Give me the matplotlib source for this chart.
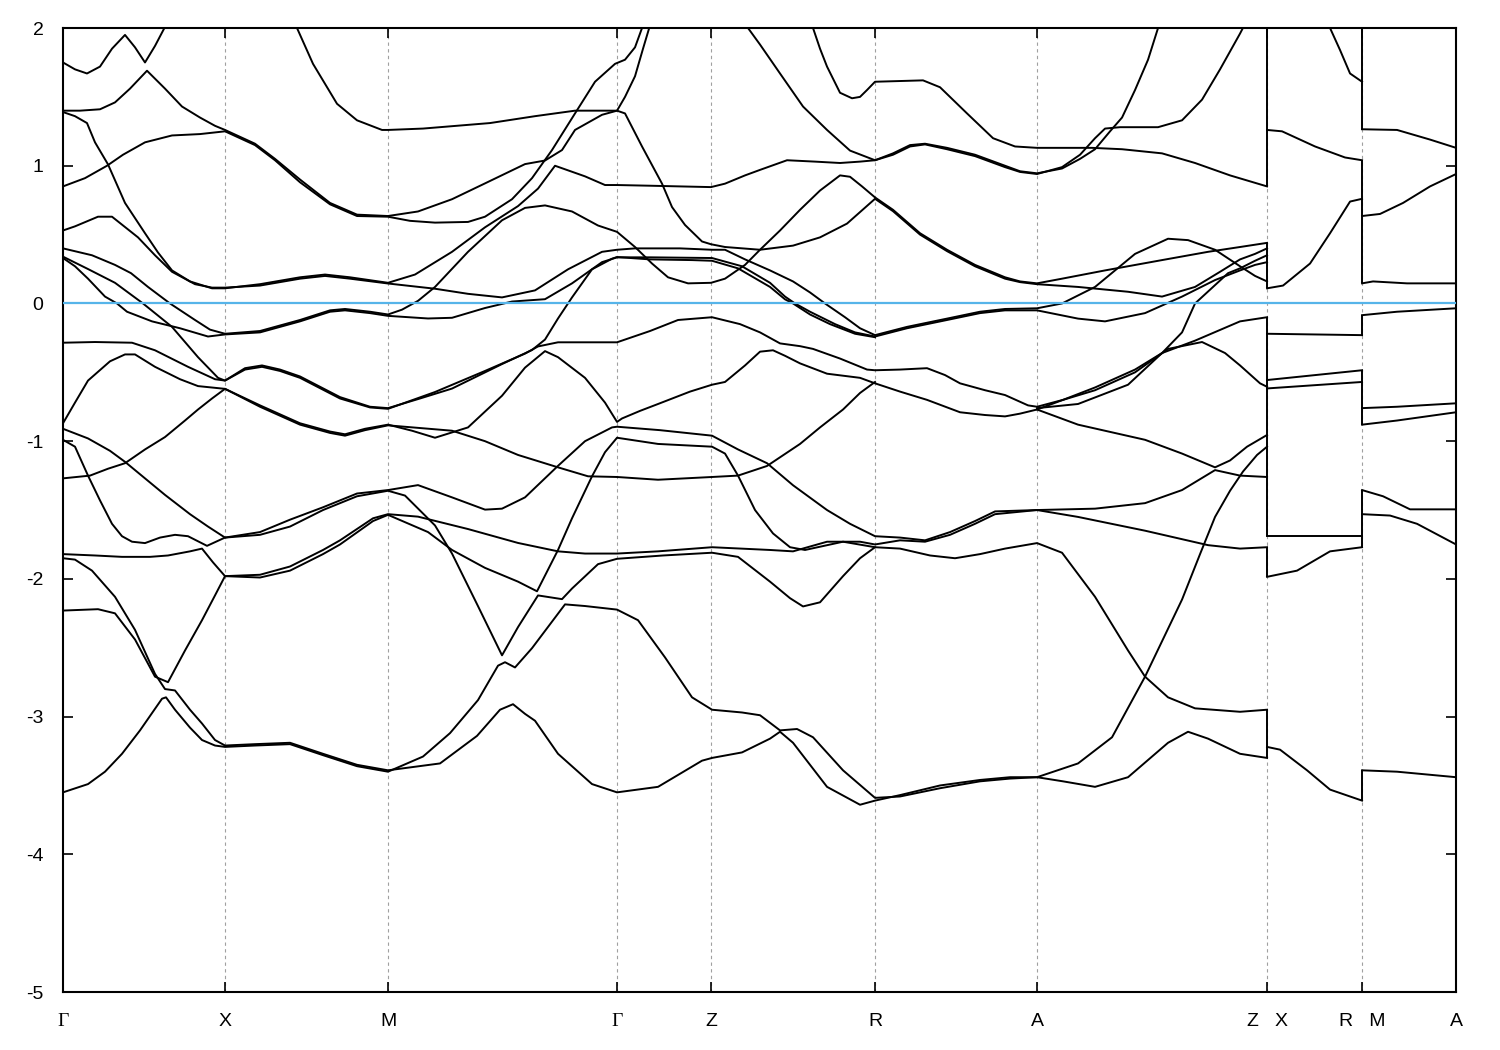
import matplotlib
matplotlib.use("Agg")
import matplotlib.pyplot as plt

plt.rcParams['font.family'] = ['Liberation Sans', 'DejaVu Sans']
plt.rcParams['axes.unicode_minus'] = False

# high-symmetry points along the path
kpts = [0.0, 1.62, 3.25, 5.54, 6.48, 8.12, 9.74, 12.04, 12.99, 13.93]
klabels = ["Γ", "X", "M", "Γ", "Z", "R", "A", "Z   X", "R   M", "A"]
yticks = [2, 1, 0, -1, -2, -3, -4, -5]

# bands as (k, E) pairs, E in eV relative to E_F
b_top = [(0.00, 1.75), (0.12, 1.70), (0.24, 1.67), (0.37, 1.72), (0.49, 1.85), (0.62, 1.95),
         (0.72, 1.86), (0.82, 1.75), (0.92, 1.87), (1.05, 2.05)]
b_b = [(0.00, 1.40), (0.17, 1.40), (0.37, 1.41), (0.52, 1.46), (0.67, 1.56), (0.84, 1.69), (1.02, 1.56),
       (1.19, 1.43), (1.37, 1.35), (1.52, 1.29), (1.62, 1.26),
       (1.92, 1.16), (2.12, 1.05), (2.37, 0.90), (2.67, 0.73), (2.94, 0.645), (3.25, 0.635),
       (3.55, 0.668), (3.89, 0.757), (4.22, 0.872), (4.62, 1.012), (4.82, 1.038), (4.99, 1.114),
       (5.12, 1.26), (5.39, 1.37), (5.54, 1.40), (5.62, 1.50), (5.72, 1.65), (5.80, 1.85), (5.87, 2.02)]
b_d = [(0.00, 0.85), (0.22, 0.91), (0.44, 1.00), (0.60, 1.08), (0.82, 1.17), (1.09, 1.22), (1.37, 1.23),
       (1.62, 1.25), (1.92, 1.15), (2.12, 1.04), (2.37, 0.88), (2.67, 0.72), (2.94, 0.635), (3.25, 0.63),
       (3.47, 0.60), (3.72, 0.587), (4.05, 0.592), (4.22, 0.63), (4.49, 0.757), (4.69, 0.91),
       (4.89, 1.114), (5.12, 1.38), (5.32, 1.61), (5.52, 1.74), (5.62, 1.77), (5.72, 1.86), (5.79, 2.0),
       (5.84, 2.08)]
b_c = [(0.00, 1.39), (0.12, 1.36), (0.24, 1.31), (0.32, 1.17), (0.45, 1.01), (0.62, 0.73), (0.82, 0.51),
       (0.95, 0.37), (1.09, 0.24), (1.27, 0.16), (1.49, 0.11), (1.62, 0.11),
       (1.97, 0.14), (2.37, 0.19), (2.62, 0.21), (2.87, 0.19), (3.25, 0.15),
       (3.52, 0.21), (3.89, 0.375), (4.22, 0.553), (4.55, 0.707), (4.75, 0.834), (4.92, 1.0),
       (5.22, 0.923), (5.42, 0.86), (5.54, 0.86),
       (5.87, 0.855), (6.17, 0.85), (6.48, 0.845),
       (6.62, 0.87), (6.82, 0.93), (6.97, 0.97), (7.24, 1.04), (7.52, 1.03), (7.77, 1.02), (7.97, 1.03),
       (8.12, 1.04), (8.30, 1.09), (8.47, 1.15), (8.62, 1.16), (8.84, 1.13), (9.12, 1.08), (9.42, 1.0),
       (9.57, 0.96), (9.74, 0.945), (9.99, 0.98), (10.17, 1.05), (10.32, 1.12), (10.47, 1.25), (10.59, 1.35),
       (10.72, 1.55), (10.85, 1.77), (10.95, 2.0), (10.99, 2.08)]
b_e = [(0.00, 0.53), (0.12, 0.56), (0.35, 0.63), (0.49, 0.63), (0.75, 0.48), (0.92, 0.35), (1.09, 0.23),
       (1.32, 0.14), (1.49, 0.115), (1.62, 0.115),
       (1.97, 0.13), (2.37, 0.18), (2.62, 0.20), (2.87, 0.18), (3.25, 0.145),
       (3.72, 0.107), (4.05, 0.07), (4.39, 0.044), (4.72, 0.095), (5.05, 0.248), (5.39, 0.375),
       (5.54, 0.39), (5.72, 0.40), (6.17, 0.40), (6.49, 0.39), (6.62, 0.39), (6.82, 0.32), (7.07, 0.24),
       (7.30, 0.16), (7.47, 0.08), (7.62, 0.0), (7.82, -0.10), (7.97, -0.18), (8.12, -0.23),
       (8.44, -0.17), (8.84, -0.11), (9.17, -0.06), (9.42, -0.04), (9.74, -0.035),
       (9.99, 0.0), (10.32, 0.12), (10.72, 0.36), (11.05, 0.47), (11.25, 0.46), (11.52, 0.39),
       (11.77, 0.27), (11.92, 0.20), (12.04, 0.16)]
b_f = [(0.00, 0.40), (0.29, 0.35), (0.52, 0.28), (0.68, 0.22), (0.85, 0.12), (1.07, 0.0), (1.32, -0.12),
       (1.47, -0.19), (1.62, -0.22),
       (1.97, -0.20), (2.37, -0.12), (2.67, -0.05), (2.82, -0.04), (3.07, -0.06), (3.25, -0.08),
       (3.39, -0.045), (3.55, 0.019), (3.72, 0.12), (4.05, 0.375), (4.39, 0.604), (4.62, 0.694),
       (4.82, 0.712), (5.09, 0.668), (5.35, 0.566), (5.54, 0.52),
       (5.72, 0.41), (5.89, 0.29), (6.05, 0.19), (6.25, 0.146), (6.48, 0.15), (6.62, 0.18), (6.82, 0.28),
       (6.97, 0.39), (7.17, 0.53), (7.37, 0.68), (7.57, 0.82), (7.77, 0.93), (7.87, 0.92), (7.99, 0.85),
       (8.12, 0.77), (8.30, 0.68), (8.57, 0.51), (8.84, 0.39), (9.12, 0.28), (9.42, 0.19), (9.57, 0.16),
       (9.74, 0.146), (9.99, 0.18), (10.42, 0.24), (10.99, 0.315), (11.45, 0.375), (11.77, 0.41), (12.04, 0.44)]
b_g = [(0.00, 0.33), (0.12, 0.27), (0.25, 0.18), (0.42, 0.05), (0.54, 0.0), (0.64, -0.06), (0.89, -0.13),
       (1.17, -0.18), (1.45, -0.24), (1.62, -0.225),
       (1.97, -0.21), (2.37, -0.13), (2.67, -0.06), (2.82, -0.05), (3.07, -0.07), (3.25, -0.09),
       (3.65, -0.109), (3.89, -0.104), (4.22, -0.033), (4.49, 0.014), (4.82, 0.031), (5.09, 0.146),
       (5.39, 0.30), (5.54, 0.335), (5.87, 0.335), (6.49, 0.33), (6.79, 0.27), (7.07, 0.15),
       (7.22, 0.05), (7.32, 0.0), (7.47, -0.06), (7.72, -0.15), (7.92, -0.21), (8.12, -0.24),
       (8.44, -0.18), (8.84, -0.12), (9.17, -0.07), (9.42, -0.05), (9.74, -0.05),
       (10.15, -0.11), (10.42, -0.13), (10.82, -0.07), (11.19, 0.05), (11.52, 0.17), (11.77, 0.24),
       (11.92, 0.28), (12.04, 0.30)]
b_h = [(0.00, 0.34), (0.25, 0.25), (0.52, 0.15), (0.80, 0.0), (1.09, -0.17), (1.35, -0.39), (1.55, -0.54),
       (1.62, -0.56), (1.82, -0.47), (1.99, -0.45), (2.17, -0.48), (2.37, -0.53), (2.77, -0.68),
       (3.07, -0.75), (3.25, -0.76), (3.57, -0.69), (3.89, -0.618), (4.39, -0.44), (4.69, -0.338),
       (4.82, -0.262), (4.95, -0.109), (5.09, 0.044), (5.29, 0.248), (5.49, 0.325), (5.54, 0.337),
       (5.87, 0.32), (6.29, 0.315), (6.49, 0.31), (6.75, 0.255), (7.07, 0.12),
       (7.22, 0.03), (7.30, 0.0), (7.47, -0.08), (7.67, -0.15), (7.92, -0.22), (8.12, -0.245)]
b_i = [(0.00, -0.285), (0.32, -0.28), (0.69, -0.285), (0.92, -0.34), (1.25, -0.46), (1.52, -0.55),
       (1.62, -0.56), (1.82, -0.48), (1.99, -0.46), (2.17, -0.49), (2.37, -0.54), (2.77, -0.69),
       (3.07, -0.755), (3.25, -0.765), (3.72, -0.643), (4.22, -0.49), (4.62, -0.364), (4.75, -0.312),
       (4.95, -0.282), (5.54, -0.282),
       (5.87, -0.20), (6.15, -0.12), (6.49, -0.10), (6.77, -0.15), (6.97, -0.21), (7.17, -0.29),
       (7.37, -0.31), (7.50, -0.33), (7.77, -0.40), (8.04, -0.48), (8.12, -0.485),
       (8.37, -0.48), (8.64, -0.47), (8.82, -0.52), (8.97, -0.58), (9.22, -0.63), (9.42, -0.665),
       (9.65, -0.74), (9.74, -0.75), (10.00, -0.70), (10.32, -0.63), (10.72, -0.50), (11.05, -0.33),
       (11.39, -0.28), (11.62, -0.36), (11.77, -0.45), (11.97, -0.58), (12.04, -0.605)]
b_j = [(0.00, -0.87), (0.12, -0.72), (0.25, -0.56), (0.47, -0.42), (0.62, -0.37), (0.72, -0.37),
       (0.92, -0.46), (1.17, -0.55), (1.35, -0.60), (1.62, -0.62),
       (1.97, -0.74), (2.37, -0.87), (2.67, -0.93), (2.82, -0.95), (3.02, -0.91), (3.25, -0.88),
       (3.49, -0.924), (3.72, -0.975), (4.05, -0.90), (4.39, -0.67), (4.62, -0.466), (4.82, -0.346),
       (4.95, -0.39), (5.22, -0.54), (5.42, -0.72), (5.54, -0.86),
       (5.59, -0.835), (5.77, -0.78), (5.95, -0.73), (6.27, -0.64), (6.49, -0.59),
       (6.62, -0.57), (6.82, -0.45), (6.97, -0.35), (7.10, -0.34), (7.22, -0.38), (7.37, -0.435),
       (7.64, -0.51), (7.97, -0.54), (8.12, -0.58), (8.37, -0.64), (8.64, -0.70), (8.97, -0.79),
       (9.22, -0.81), (9.42, -0.82), (9.57, -0.80), (9.74, -0.77), (10.00, -0.70), (10.32, -0.61),
       (10.72, -0.48), (10.99, -0.36), (11.32, -0.27), (11.77, -0.13), (12.04, -0.10)]
b_k = [(0.00, -0.91), (0.25, -0.98), (0.47, -1.07), (0.62, -1.15), (0.82, -1.27), (1.02, -1.39),
       (1.27, -1.53), (1.45, -1.62), (1.62, -1.70), (1.97, -1.66), (2.27, -1.57), (2.60, -1.48),
       (2.94, -1.38), (3.25, -1.355), (3.55, -1.319), (3.89, -1.408), (4.22, -1.497), (4.39, -1.49),
       (4.62, -1.408), (4.95, -1.179), (5.22, -1.0), (5.49, -0.90), (5.54, -0.895),
       (5.97, -0.92), (6.49, -0.96), (6.75, -1.06), (7.04, -1.16),
       (7.30, -1.32), (7.64, -1.50), (7.87, -1.60), (8.12, -1.69),
       (8.37, -1.70), (8.62, -1.72), (8.87, -1.66), (9.12, -1.58), (9.32, -1.51), (9.74, -1.50),
       (10.32, -1.49), (10.82, -1.45), (11.19, -1.355), (11.52, -1.21), (11.77, -1.25), (12.04, -1.26)]
b_l = [(0.00, -1.27), (0.27, -1.25), (0.45, -1.20), (0.62, -1.16), (0.82, -1.06), (1.02, -0.97),
       (1.22, -0.85), (1.35, -0.77), (1.49, -0.69), (1.62, -0.62),
       (1.97, -0.75), (2.37, -0.88), (2.67, -0.94), (2.82, -0.96), (3.02, -0.92), (3.25, -0.885),
       (3.89, -0.924), (4.22, -1.0), (4.55, -1.10), (4.95, -1.19), (5.25, -1.255), (5.54, -1.26),
       (5.95, -1.28), (6.49, -1.26), (6.75, -1.25),
       (7.04, -1.18), (7.37, -1.02), (7.57, -0.90), (7.80, -0.77), (7.97, -0.65), (8.12, -0.57)]
b_m = [(0.00, -0.99), (0.12, -1.04), (0.25, -1.25), (0.37, -1.43), (0.49, -1.60), (0.59, -1.69),
       (0.69, -1.73), (0.82, -1.74), (0.97, -1.70), (1.12, -1.68), (1.25, -1.69), (1.44, -1.76),
       (1.62, -1.70), (1.97, -1.68), (2.27, -1.62), (2.60, -1.50), (2.94, -1.40), (3.25, -1.36),
       (3.42, -1.395), (3.72, -1.612), (3.89, -1.816), (4.15, -2.198), (4.39, -2.555), (4.55, -2.35),
       (4.75, -2.12), (4.99, -2.147), (5.09, -2.07), (5.35, -1.893), (5.54, -1.854), (6.00, -1.83),
       (6.49, -1.81), (6.75, -1.84), (7.07, -2.02), (7.27, -2.14), (7.40, -2.20), (7.57, -2.17),
       (7.80, -1.98), (7.97, -1.85), (8.12, -1.77), (8.37, -1.78), (8.67, -1.83), (8.92, -1.85),
       (9.17, -1.82), (9.42, -1.78), (9.74, -1.74), (9.99, -1.81), (10.32, -2.13), (10.65, -2.52),
       (10.82, -2.71), (11.05, -2.86), (11.32, -2.94), (11.77, -2.965), (12.04, -2.95)]
b_n = [(0.00, -1.82), (0.32, -1.83), (0.59, -1.84), (0.87, -1.84), (1.05, -1.83), (1.27, -1.80),
       (1.39, -1.78), (1.50, -1.88), (1.62, -1.98), (1.97, -1.97), (2.27, -1.91), (2.60, -1.79),
       (2.77, -1.72), (3.10, -1.56), (3.25, -1.53), (3.55, -1.548), (4.05, -1.638), (4.55, -1.739),
       (4.95, -1.80), (5.22, -1.816), (5.54, -1.816), (5.95, -1.80), (6.49, -1.77),
       (7.07, -1.79), (7.30, -1.80), (7.64, -1.73), (7.97, -1.73), (8.12, -1.75),
       (8.37, -1.72), (8.62, -1.73), (8.87, -1.68), (9.12, -1.60), (9.32, -1.53), (9.74, -1.50),
       (10.15, -1.55), (10.82, -1.65), (11.45, -1.755), (11.77, -1.78), (12.04, -1.77)]
b_o = [(0.00, -1.85), (0.12, -1.86), (0.29, -1.94), (0.52, -2.13), (0.72, -2.37), (0.92, -2.69),
       (1.02, -2.80), (1.12, -2.81), (1.27, -2.95), (1.39, -3.05), (1.52, -3.17), (1.62, -3.21),
       (1.92, -3.20), (2.27, -3.19), (2.60, -3.27), (2.94, -3.35), (3.25, -3.39),
       (3.77, -3.34), (4.14, -3.14), (4.37, -2.95), (4.50, -2.91), (4.62, -2.98), (4.72, -3.03),
       (4.95, -3.27), (5.29, -3.49), (5.54, -3.55), (5.95, -3.51), (6.39, -3.32), (6.49, -3.30),
       (6.79, -3.26), (7.07, -3.16), (7.17, -3.11), (7.30, -3.19), (7.64, -3.51), (7.97, -3.64),
       (8.12, -3.61), (8.37, -3.57), (8.77, -3.50), (9.17, -3.46), (9.47, -3.44), (9.74, -3.44),
       (10.00, -3.47), (10.32, -3.51), (10.65, -3.44), (11.05, -3.19), (11.25, -3.11), (11.45, -3.16),
       (11.77, -3.27), (12.04, -3.30)]
b_p = [(0.00, -2.23), (0.35, -2.22), (0.52, -2.25), (0.72, -2.44), (0.92, -2.71), (1.05, -2.75),
       (1.22, -2.52), (1.39, -2.30), (1.52, -2.12), (1.62, -1.98), (1.97, -1.99), (2.27, -1.94),
       (2.60, -1.82), (2.77, -1.75), (3.10, -1.58), (3.25, -1.535), (3.65, -1.66), (3.89, -1.79),
       (4.22, -1.92), (4.55, -2.02), (4.74, -2.09), (4.95, -1.79), (5.09, -1.56), (5.29, -1.255),
       (5.42, -1.08), (5.54, -0.975), (5.95, -1.02),
       (6.49, -1.04), (6.62, -1.09), (6.75, -1.25), (6.92, -1.50), (7.10, -1.67), (7.27, -1.77),
       (7.42, -1.79), (7.80, -1.73), (8.12, -1.77)]
b_q = [(0.00, -3.55), (0.25, -3.49), (0.42, -3.40), (0.59, -3.27), (0.77, -3.10), (0.99, -2.87),
       (1.03, -2.86), (1.12, -2.95), (1.27, -3.08), (1.39, -3.17), (1.52, -3.21), (1.62, -3.22),
       (1.92, -3.21), (2.27, -3.20), (2.60, -3.28), (2.94, -3.36), (3.25, -3.40),
       (3.60, -3.29), (3.87, -3.12), (4.15, -2.88), (4.35, -2.63), (4.42, -2.605), (4.52, -2.643),
       (4.69, -2.503), (5.02, -2.185), (5.22, -2.197), (5.54, -2.223),
       (5.75, -2.30), (6.02, -2.57), (6.29, -2.86), (6.49, -2.95), (6.79, -2.97), (6.97, -2.99),
       (7.17, -3.10), (7.34, -3.09), (7.50, -3.15), (7.80, -3.39), (8.12, -3.59),
       (8.37, -3.58), (8.77, -3.52), (9.17, -3.47), (9.47, -3.45), (9.74, -3.44),
       (10.15, -3.34), (10.49, -3.15), (10.82, -2.71), (11.19, -2.15), (11.37, -1.82), (11.52, -1.55),
       (11.67, -1.36), (11.80, -1.22), (11.94, -1.10), (12.04, -1.04)]
b_par = [(2.29, 2.05), (2.34, 2.0), (2.50, 1.74), (2.74, 1.45), (2.94, 1.33), (3.19, 1.26), (3.25, 1.26),
         (3.60, 1.27), (4.27, 1.31), (4.72, 1.36), (5.12, 1.40), (5.54, 1.40),
         (5.62, 1.38), (5.79, 1.14), (5.99, 0.87), (6.09, 0.70), (6.22, 0.57), (6.39, 0.45), (6.48, 0.43),
         (6.62, 0.41), (6.97, 0.39), (7.30, 0.42), (7.57, 0.48), (7.84, 0.58), (8.12, 0.76),
         (8.30, 0.67), (8.57, 0.50), (8.84, 0.38), (9.12, 0.27), (9.42, 0.18), (9.57, 0.155), (9.74, 0.14),
         (10.15, 0.12), (10.65, 0.085), (10.99, 0.05), (11.32, 0.12), (11.57, 0.23), (11.77, 0.32),
         (11.92, 0.36), (12.04, 0.40)]
b_zr1 = [(6.82, 2.03), (6.85, 2.0), (6.97, 1.88), (7.17, 1.67), (7.40, 1.43), (7.64, 1.26), (7.87, 1.11),
         (8.12, 1.04), (8.30, 1.08), (8.47, 1.14), (8.62, 1.155), (8.84, 1.12), (9.12, 1.07), (9.42, 0.99),
         (9.57, 0.955), (9.74, 0.94), (9.99, 0.99), (10.17, 1.08), (10.32, 1.20), (10.42, 1.27),
         (10.57, 1.28), (10.95, 1.28), (11.19, 1.33), (11.39, 1.48), (11.57, 1.70), (11.77, 1.96),
         (11.82, 2.03)]
b_zr2 = [(7.48, 2.03), (7.50, 2.0), (7.57, 1.85), (7.64, 1.72), (7.77, 1.53), (7.89, 1.49), (7.97, 1.50),
         (8.04, 1.55), (8.12, 1.61), (8.60, 1.62), (8.77, 1.57), (9.04, 1.38), (9.30, 1.20), (9.52, 1.14),
         (9.74, 1.13), (10.05, 1.13), (10.29, 1.13), (10.59, 1.12), (10.99, 1.09), (11.32, 1.02),
         (11.67, 0.93), (12.04, 0.85)]
b_az1 = [(9.74, -0.77), (10.15, -0.88), (10.82, -0.99), (11.19, -1.09), (11.52, -1.19), (11.67, -1.14),
         (11.84, -1.04), (12.04, -0.955)]
b_az2 = [(9.74, -0.76), (10.15, -0.73), (10.65, -0.59), (10.99, -0.36), (11.19, -0.21), (11.32, 0.0),
         (11.65, 0.22), (11.77, 0.255), (11.92, 0.31), (12.04, 0.35)]

# X-R segment
xr_1 = [(12.04, 1.26), (12.19, 1.25), (12.52, 1.14), (12.82, 1.06), (12.99, 1.04)]
xr_2 = [(12.04, 0.11), (12.20, 0.13), (12.47, 0.29), (12.67, 0.51), (12.87, 0.74), (12.99, 0.76)]
xr_3 = [(12.64, 2.05), (12.67, 2.0), (12.77, 1.84), (12.87, 1.67), (12.99, 1.61)]
xr_4 = [(12.04, -0.22), (12.99, -0.23)]
xr_5 = [(12.04, -0.556), (12.99, -0.485)]
xr_6 = [(12.04, -0.617), (12.99, -0.57)]
xr_7 = [(12.04, -1.69), (12.52, -1.69), (12.99, -1.69)]
xr_8 = [(12.04, -1.985), (12.34, -1.94), (12.67, -1.80), (12.99, -1.77)]
xr_9 = [(12.04, -3.22), (12.17, -3.24), (12.44, -3.39), (12.67, -3.53), (12.99, -3.61)]

# M-A segment
ma_1 = [(12.99, 1.265), (13.34, 1.26), (13.67, 1.19), (13.93, 1.13)]
ma_2 = [(12.99, 0.635), (13.17, 0.65), (13.40, 0.73), (13.67, 0.85), (13.93, 0.94)]
ma_3 = [(12.99, 0.146), (13.10, 0.16), (13.44, 0.146), (13.93, 0.146)]
ma_4 = [(12.99, -0.085), (13.34, -0.06), (13.93, -0.035)]
ma_5 = [(12.99, -0.76), (13.34, -0.75), (13.93, -0.725)]
ma_6 = [(12.99, -0.88), (13.34, -0.85), (13.93, -0.79)]
ma_7 = [(12.99, -1.355), (13.20, -1.40), (13.47, -1.495), (13.93, -1.495)]
ma_8 = [(12.99, -1.53), (13.27, -1.54), (13.54, -1.60), (13.93, -1.75)]
ma_9 = [(12.99, -3.39), (13.34, -3.40), (13.93, -3.44)]

# vertical jumps at the path breaks Z|X and R|M
zx_lo = [0.85, 0.11, -1.69, -1.985, -3.30]
zx_hi = [2.10, 0.44, -0.10, -1.77, -2.95]
rm_lo = [1.26, 0.146, -0.23, -0.88, -1.77, -3.61]
rm_hi = [2.10, 1.04, -0.085, -0.485, -1.355, -3.39]

bands = [b_top, b_b, b_d, b_c, b_e, b_f, b_g, b_h, b_i, b_j, b_k, b_l, b_m, b_n, b_o, b_p, b_q,
         b_par, b_zr1, b_zr2, b_az1, b_az2,
         xr_1, xr_2, xr_3, xr_4, xr_5, xr_6, xr_7, xr_8, xr_9,
         ma_1, ma_2, ma_3, ma_4, ma_5, ma_6, ma_7, ma_8, ma_9]

fig = plt.figure(figsize=(15, 10.5), dpi=100)
ax = fig.add_axes([0.042, 0.0552, 0.9287, 0.9181])

# dashed guides at the inner k-points
for k in kpts[1:-1]:
    ax.axvline(k, color='#a0a0a0', lw=0.8, ls=(0, (3, 3)), zorder=1)

for b in bands:
    ks, es = zip(*b)
    ax.plot(ks, es, color='black', lw=1.4, zorder=2, solid_joinstyle='round')

ax.vlines([kpts[7]] * len(zx_lo), zx_lo, zx_hi, colors='black', lw=1.4, zorder=2)
ax.vlines([kpts[8]] * len(rm_lo), rm_lo, rm_hi, colors='black', lw=1.4, zorder=2)

ax.axhline(0, color='#56b4e9', lw=1.6, zorder=3)

ax.set_xlim(kpts[0], kpts[-1])
ax.set_ylim(-5, 2)
ax.set_yticks(yticks)
ax.set_yticklabels([str(v) for v in yticks])
ax.set_xticks(kpts)
ax.set_xticklabels(klabels)
for lbl in ax.get_xticklabels():
    if lbl.get_text() == "Γ":
        lbl.set_fontfamily("Liberation Serif")

ax.tick_params(axis='both', which='both', direction='in', top=True, right=True,
               length=7, width=1.2, labelsize=14)
ax.tick_params(axis='x', pad=15)
ax.tick_params(axis='y', pad=14)
for s in ax.spines.values():
    s.set_linewidth(1.5)

fig.savefig("out.png", dpi=100)
